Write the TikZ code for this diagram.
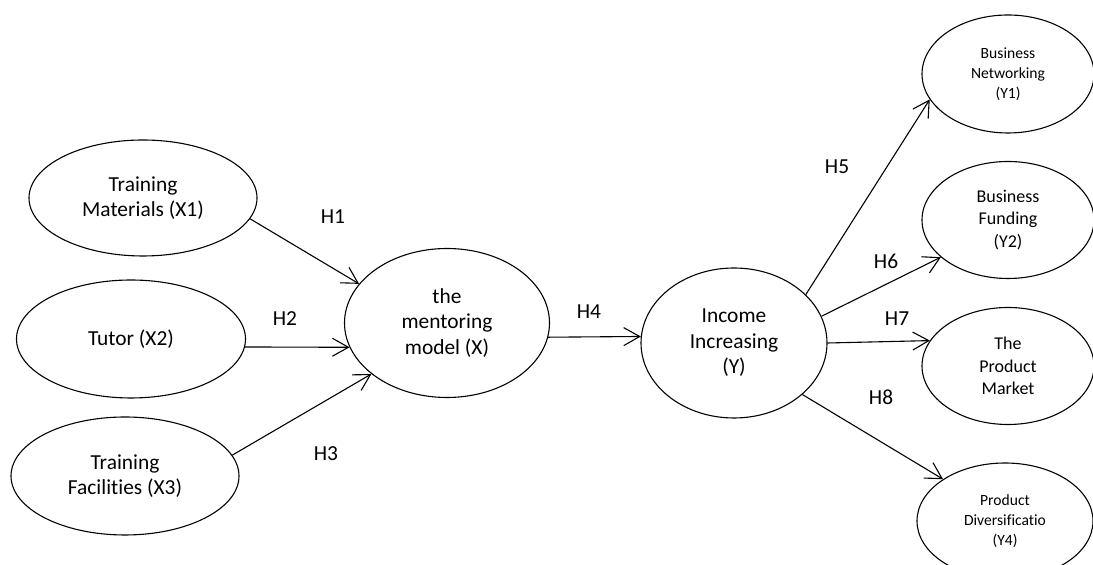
\documentclass[tikz,border=0pt]{standalone}
\usepackage{fontspec}
\setmainfont{Carlito}[Ligatures={NoCommon,NoRequired,NoContextual,NoDiscretionary}]
\usepackage{tikz}
\usetikzlibrary{shapes, arrows.meta, positioning}
\tikzstyle{var} = [draw, ellipse, inner sep=0pt, align=center, font=\fontsize{10.7}{12.7}\selectfont]
\tikzstyle{midvar} = [var, font=\fontsize{9}{11.3}\selectfont]
\tikzstyle{smallvar} = [var, font=\fontsize{7.8}{10}\selectfont]
\tikzstyle{hyp} = [font=\fontsize{10.7}{12.7}\selectfont]

\begin{document}
\begin{tikzpicture}[x=0.5pt,y=-0.5pt,line width=0.55pt,>={Straight Barb[length=8pt,width=9pt]}]
    \useasboundingbox (0,0) rectangle (1093,565);
    % left side
    \node [var, minimum width=114pt, minimum height=58pt] (X1) at (143,198) {Training\\Materials (X1)};
    \node [var, minimum width=114.5pt, minimum height=59pt] (X2) at (131,339) {Tutor (X2)};
    \node [var, minimum width=114pt, minimum height=59pt] (X3) at (125,476) {Training\\Facilities (X3)};
    \node [var, minimum width=102.5pt, minimum height=74.5pt] (X) at (447,323) {the\\mentoring\\model (X)};
    \node [var, minimum width=93pt, minimum height=75pt] (Y) at (734,343) {Income\\Increasing\\(Y)};
    % right side
    \node [smallvar, minimum width=86pt, minimum height=59pt] (Y1) at (1008,74) {Business\\Networking\\(Y1)};
    \node [midvar, minimum width=86pt, minimum height=58.5pt] (Y2) at (1008,220) {Business\\Funding\\(Y2)};
    \node [midvar, minimum width=86pt, minimum height=58.5pt] (Y3) at (1008,366) {The\\Product\\Market};
    \node [smallvar, minimum width=88pt, minimum height=58pt] (Y4) at (1005,521) {Product\\Diversificatio\\(Y4)};
    % hypotheses
    \node [hyp] (h1) at (333,217) {H1};
    \node [hyp] (h2) at (285,319) {H2};
    \node [hyp] (h3) at (326,454) {H3};
    \node [hyp] (h4) at (589,312) {H4};
    \node [hyp] (h5) at (837,167) {H5};
    \node [hyp] (h6) at (886,261) {H6};
    \node [hyp] (h7) at (897,319) {H7};
    \node [hyp] (h8) at (881,397) {H8};
    \draw [->] (X1.-11) -- (X.156);
    \draw [->] (X2.-4) -- (X.194);
    \draw [->] (X3.11) -- (X.214);
    \draw [->] (X.-8) -- (Y.176);
    \draw [->] (Y.34) -- (Y1.198);
    \draw [->] (Y.17) -- (Y2.209);
    \draw [->] (Y.east) -- (Y3.162);
    \draw [->] (Y.-37) -- (Y4.146);
\end{tikzpicture}
\end{document}
